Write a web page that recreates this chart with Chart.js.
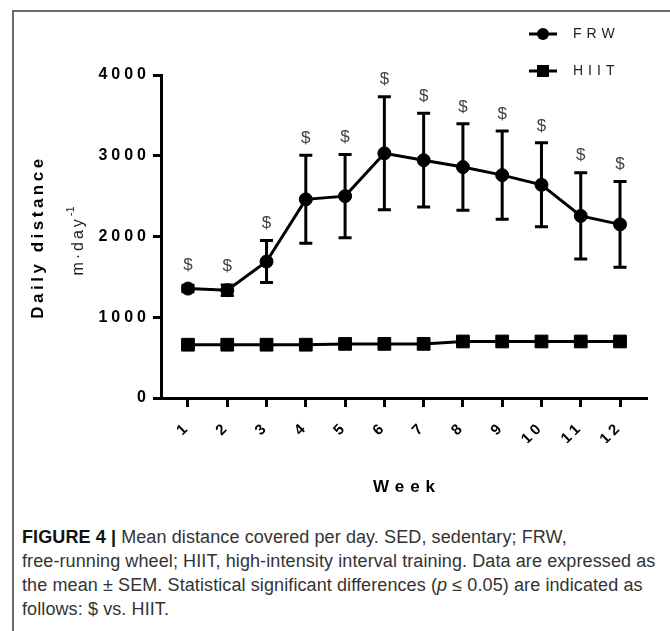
<!DOCTYPE html>
<html>
<head>
<meta charset="utf-8">
<script src="https://cdn.jsdelivr.net/npm/chart.js@4.4.0/dist/chart.umd.min.js"></script>
<style>
  html, body { margin: 0; padding: 0; background: #fff; }
  body { width: 670px; height: 631px; position: relative; overflow: hidden; }
  #frame { position: absolute; left: 12px; top: 10px; width: 720px; height: 700px;
           border-top: 2px solid #6a6a6a; border-left: 2px solid #6a6a6a; }
  #myChart { position: absolute; left: 0; top: 0; }
  #caption { position: absolute; left: 22px; top: 525px; white-space: nowrap;
             font-family: "Liberation Sans", Arial, sans-serif;
             font-size: 18px; letter-spacing: 0.1px; line-height: 24px; color: #333; }
  #caption b { color: #111; }
</style>
</head>
<body>
<div id="frame"></div>
<canvas id="myChart" width="670" height="515"></canvas>
<div id="caption"><b>FIGURE 4 |</b> Mean distance covered per day. SED, sedentary; FRW,<br>free-running wheel; HIIT, high-intensity interval training. Data are expressed as<br>the mean ± SEM. Statistical significant differences (<i>p</i> ≤ 0.05) are indicated as<br>follows: $ vs. HIIT.</div>
<script>
// data (m/day, mean and SEM)
var weeks = [1, 2, 3, 4, 5, 6, 7, 8, 9, 10, 11, 12];
var frwMean = [1355, 1335, 1690, 2460, 2500, 3030, 2945, 2860, 2760, 2640, 2255, 2150];
var frwSem = [40, 65, 260, 545, 515, 700, 580, 535, 545, 520, 535, 530];
var hiitMean = [660, 660, 660, 660, 670, 670, 670, 700, 700, 700, 700, 700];
var hiitSem = [20, 20, 20, 20, 20, 20, 20, 20, 20, 20, 20, 20];
var frwVsHiit = [true, true, true, true, true, true, true, true, true, true, true, true];
var yTicks = [0, 1000, 2000, 3000, 4000];

var FONT = 'Liberation Sans, Arial, sans-serif';

// letter spaced text like the GraphPad original
var spacing = {
  id: 'spacing',
  beforeLayout: function (chart) { chart.ctx.letterSpacing = '4px'; },
  beforeDraw: function (chart) { chart.ctx.letterSpacing = '4px'; }
};

var errorBars = {
  id: 'errorBars',
  afterDatasetsDraw: function (chart) {
    var ctx = chart.ctx;
    var xs = chart.scales.x, ys = chart.scales.y;
    ctx.save();
    ctx.strokeStyle = '#000';
    ctx.lineWidth = 3;
    [[frwMean, frwSem], [hiitMean, hiitSem]].forEach(function (s) {
      weeks.forEach(function (w, i) {
        var x = xs.getPixelForValue(w);
        var top = ys.getPixelForValue(s[0][i] + s[1][i]);
        var bot = ys.getPixelForValue(s[0][i] - s[1][i]);
        ctx.beginPath();
        ctx.moveTo(x, top); ctx.lineTo(x, bot);
        ctx.moveTo(x - 6.5, top); ctx.lineTo(x + 6.5, top);
        ctx.moveTo(x - 6.5, bot); ctx.lineTo(x + 6.5, bot);
        ctx.stroke();
      });
    });
    // significance marks
    ctx.letterSpacing = '0px';
    ctx.fillStyle = '#444';
    ctx.font = '17px ' + FONT;
    ctx.textAlign = 'center';
    ctx.textBaseline = 'middle';
    weeks.forEach(function (w, i) {
      if (!frwVsHiit[i]) return;
      var x = xs.getPixelForValue(w);
      var top = Math.min(ys.getPixelForValue(frwMean[i] + frwSem[i]), ys.getPixelForValue(frwMean[i]) - 6.5);
      ctx.fillText('$', x, top - 17);
    });
    ctx.restore();
  }
};

var labels = {
  id: 'labels',
  afterDraw: function (chart) {
    var ctx = chart.ctx;
    var area = chart.chartArea;
    ctx.save();
    ctx.fillStyle = '#000';
    ctx.textBaseline = 'middle';
    ctx.textAlign = 'center';

    // x title
    ctx.letterSpacing = '6px';
    ctx.font = 'bold 17px ' + FONT;
    ctx.fillText('Week', (area.left + area.right) / 2 + 3, 487);

    // y title, two lines
    ctx.save();
    ctx.translate(38, 237);
    ctx.rotate(-Math.PI / 2);
    ctx.letterSpacing = '3.5px';
    ctx.font = 'bold 17px ' + FONT;
    ctx.fillText('Daily distance', 0, 0);
    ctx.restore();

    ctx.save();
    ctx.translate(79, 241);
    ctx.rotate(-Math.PI / 2);
    ctx.textAlign = 'left';
    ctx.fillStyle = '#222';
    ctx.letterSpacing = '3px';
    ctx.font = '16px ' + FONT;
    var w1 = ctx.measureText('m·day').width;
    ctx.font = '11px ' + FONT;
    ctx.letterSpacing = '0px';
    var w2 = ctx.measureText('-1').width;
    var x0 = -(w1 + w2) / 2;
    ctx.letterSpacing = '3px';
    ctx.font = '16px ' + FONT;
    ctx.fillText('m·day', x0, 0);
    ctx.letterSpacing = '0px';
    ctx.font = '11px ' + FONT;
    ctx.fillText('-1', x0 + w1, -8);
    ctx.restore();

    // legend, line + marker
    var rows = [34, 71];
    chart.data.datasets.forEach(function (ds, i) {
      var y = rows[i];
      ctx.strokeStyle = ds.borderColor;
      ctx.lineWidth = 3;
      ctx.beginPath();
      ctx.moveTo(529, y); ctx.lineTo(557, y);
      ctx.stroke();
      ctx.fillStyle = ds.backgroundColor;
      if (ds.pointStyle === 'circle') {
        ctx.beginPath(); ctx.arc(543, y, 6, 0, Math.PI * 2); ctx.fill();
      } else {
        ctx.fillRect(537, y - 6, 12, 12);
      }
      ctx.fillStyle = '#222';
      ctx.textAlign = 'left';
      ctx.letterSpacing = '5px';
      ctx.font = '14px ' + FONT;
      ctx.fillText(ds.label, 573, y);
    });
    ctx.restore();
  }
};

var ctx = document.getElementById('myChart').getContext('2d');
var chart = new Chart(ctx, {
  type: 'line',
  data: {
    datasets: [
      {
        label: 'FRW',
        data: weeks.map(function (w, i) { return { x: w, y: frwMean[i] }; }),
        borderColor: '#000',
        backgroundColor: '#000',
        borderWidth: 3,
        pointStyle: 'circle',
        pointRadius: 6.5,
        pointBorderWidth: 1
      },
      {
        label: 'HIIT',
        data: weeks.map(function (w, i) { return { x: w, y: hiitMean[i] }; }),
        borderColor: '#000',
        backgroundColor: '#000',
        borderWidth: 3,
        pointStyle: 'rect',
        pointRadius: 9,
        pointBorderWidth: 1
      }
    ]
  },
  options: {
    responsive: false,
    animation: false,
    layout: {
      padding: { left: 81, right: 23, top: 75, bottom: 72 }
    },
    plugins: {
      legend: { display: false },
      tooltip: { enabled: false }
    },
    scales: {
      x: {
        type: 'linear',
        min: 0.313,
        max: 12.687,
        afterBuildTicks: function (s) { s.ticks = weeks.map(function (w) { return { value: w }; }); },
        afterFit: function (s) { s.height = 45; },
        border: { display: true, color: '#000', width: 3 },
        grid: { display: true, drawOnChartArea: false, drawTicks: true, tickLength: 9, tickWidth: 3, tickColor: '#000' },
        ticks: {
          color: '#000',
          autoSkip: false,
          minRotation: 45,
          maxRotation: 45,
          padding: 11,
          font: { family: FONT, size: 15, weight: 'bold' },
          callback: function (v) { return String(v); }
        }
      },
      y: {
        min: 0,
        max: 4000,
        afterBuildTicks: function (s) { s.ticks = yTicks.map(function (v) { return { value: v }; }); },
        afterFit: function (s) { s.width = 80; },
        border: { display: true, color: '#000', width: 3 },
        grid: { display: true, drawOnChartArea: false, drawTicks: true, tickLength: 8, tickWidth: 3, tickColor: '#000' },
        ticks: {
          color: '#000',
          padding: 3,
          font: { family: FONT, size: 16, weight: 'bold' },
          callback: function (v) { return String(v); }
        }
      }
    }
  },
  plugins: [spacing, errorBars, labels]
});
</script>
</body>
</html>
